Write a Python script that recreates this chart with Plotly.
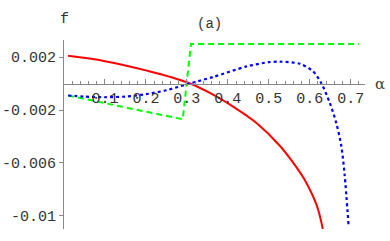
import plotly.graph_objects as go

# Red (solid) curve
alpha_red = [0.01, 0.1, 0.2, 0.3, 0.364, 0.412, 0.47, 0.527, 0.567, 0.59, 0.617, 0.632]
f_red = [0.0021, 0.0017, 0.0010, 0.0001, -0.00083, -0.00172, -0.00298, -0.0047, -0.0063, -0.0074, -0.0092, -0.0110]

# Blue (dotted) curve
alpha_blue = [0.01, 0.05, 0.1, 0.15, 0.2, 0.25, 0.3, 0.364, 0.446, 0.5, 0.527, 0.576, 0.608, 0.628, 0.649, 0.665, 0.677, 0.685, 0.695]
f_blue = [-0.0009, -0.00098, -0.00103, -0.00098, -0.0008, -0.0005, -0.00005, 0.0005, 0.0013, 0.00162, 0.00166, 0.0015, 0.00093, 0.00005, -0.00146, -0.0030, -0.0047, -0.0068, -0.0108]

# Green (dashed) curve
alpha_green = [0.01, 0.29, 0.31, 0.72]
f_green = [-0.0009, -0.0027, 0.0030, 0.0030]

x_ticks = [0.1, 0.2, 0.3, 0.4, 0.5, 0.6, 0.7]
x_ticktext = ["0.1", "0.2", "0.3", "0.4", "0.5", "0.6", "0.7"]
y_ticks = [0.002, -0.002, -0.006, -0.01]
y_ticktext = ["0.002", "-0.002", "-0.006", "-0.01"]

x_range = [0, 0.735]
y_range = [-0.0110, 0.0033]

font = dict(family="Liberation Mono, DejaVu Sans Mono, monospace", size=15, color="#333")

fig = go.Figure()
fig.add_trace(go.Scatter(x=alpha_red, y=f_red, mode="lines", line=dict(color="#ff0000", width=2, shape="spline", smoothing=1)))
fig.add_trace(go.Scatter(x=alpha_green, y=f_green, mode="lines", line=dict(color="#00ff00", width=2, dash="6px,4px")))
fig.add_trace(go.Scatter(x=alpha_blue, y=f_blue, mode="lines", line=dict(color="#0000ff", width=2.2, dash="dot", shape="spline", smoothing=0.8)))

x_axis_pos = (0 - y_range[0]) / (y_range[1] - y_range[0])

fig.update_layout(
    width=390, height=241,
    margin=dict(l=64, r=25, t=40, b=12),
    paper_bgcolor="white", plot_bgcolor="white",
    showlegend=False,
    font=font,
    xaxis=dict(range=x_range, showgrid=False, zeroline=False, showline=True, linecolor="#888", linewidth=1,
               anchor="free", position=x_axis_pos, side="bottom", automargin=False,
               tickvals=x_ticks, ticktext=x_ticktext, ticks="inside", ticklen=5, tickcolor="#888",
               minor=dict(dtick=0.02, ticks="inside", ticklen=3, tickcolor="#888"),
               tickfont=font),
    yaxis=dict(range=y_range, showgrid=False, zeroline=False, showline=True, linecolor="#888", linewidth=1,
               automargin=False,
               tickvals=y_ticks, ticktext=y_ticktext, ticks="outside", ticklen=4, tickcolor="#888",
               tickfont=font),
    annotations=[
        dict(text="f", x=0, y=1, xref="x domain", yref="paper", xanchor="center", yanchor="bottom", yshift=10, showarrow=False, font=font),
        dict(text="(a)", x=0.356, y=1, xref="x", yref="paper", xanchor="center", yanchor="bottom", yshift=6, showarrow=False, font=dict(family=font["family"], size=14, color="#333")),
        dict(text="α", x=1, y=0, xref="x domain", yref="y", xanchor="left", yanchor="middle", xshift=8, showarrow=False, font=dict(family="DejaVu Serif, serif", size=15, color="#444")),
    ],
)

fig.write_html("out.html", config={"displayModeBar": False},
               post_script="document.body.style.margin='0';document.body.style.padding='0';")
